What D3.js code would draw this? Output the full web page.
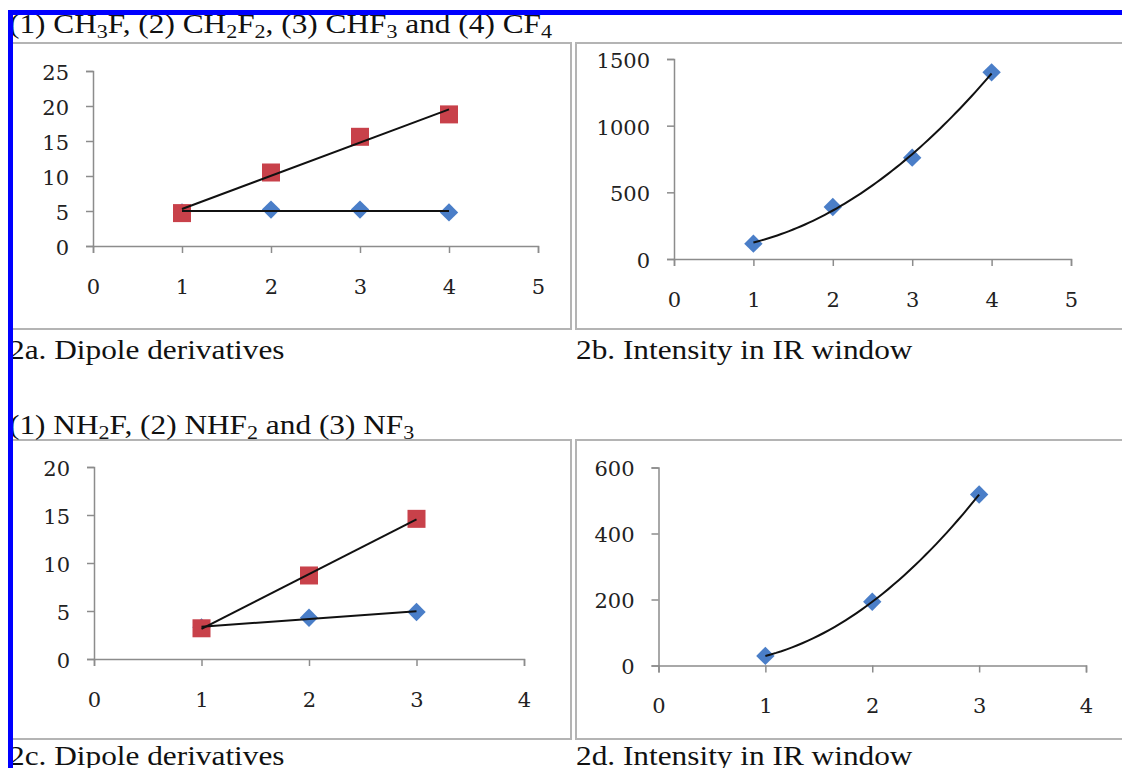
<!DOCTYPE html>
<html>
  <head>
    <meta charset="utf-8">
    <title>Dipole derivatives and IR intensity</title>
    <style media="screen">
      body { margin: 0; background: white; }
      .frame { fill: none; stroke: #b4b4b4; stroke-width: 2; }
      .axis path, .axis line { fill: none; stroke: #8c8c8c; stroke-width: 1.5; }
      .axis text { font-family: "DejaVu Serif", serif; font-size: 21px; fill: #222; }
      .caption { font-family: "Liberation Serif", serif; font-size: 27px; fill: #111; }
      .trend { fill: none; stroke: #111; stroke-width: 2; }
      .red { fill: #c8414a; }
      .blue { fill: #4a7ec8; }
    </style>
    <script src="https://d3js.org/d3.v7.min.js"></script>
  </head>
  <body>
    <script type="text/javascript">

      // fluoromethanes (1) CH3F ... (4) CF4
      const methaneX = [1, 2, 3, 4];
      const methaneRed = [4.7, 10.5, 15.6, 18.8];
      const methaneBlue = [4.8, 5.2, 5.2, 4.8];
      const methaneIntensity = [115, 390, 760, 1400];

      // fluoroamines (1) NH2F ... (3) NF3
      const amineX = [1, 2, 3];
      const amineRed = [3.2, 8.7, 14.6];
      const amineBlue = [3.3, 4.3, 4.9];
      const amineIntensity = [29, 193, 518];

      const aXTicks = [0, 1, 2, 3, 4, 5];
      const aYTicks = [0, 5, 10, 15, 20, 25];
      const bYTicks = [0, 500, 1000, 1500];
      const cXTicks = [0, 1, 2, 3, 4];
      const cYTicks = [0, 5, 10, 15, 20];
      const dYTicks = [0, 200, 400, 600];

      const width = 1122;
      const height = 768;
      const stretch = 1.16; // the scan is a little wider than tall

      const svg = d3.select('body')
        .append('svg')
          .attr('width', width)
          .attr('height', height);

      // least squares polynomial fit, like a spreadsheet trendline
      function polyfit(xs, ys, order) {
        const n = order + 1;
        const m = d3.range(n).map(i => d3.range(n + 1).map(j => {
          if (j === n) return d3.sum(xs, (x, k) => ys[k] * Math.pow(x, i));
          return d3.sum(xs, x => Math.pow(x, i + j));
        }));
        for (let i = 0; i < n; i++) {
          for (let r = i + 1; r < n; r++) {
            const f = m[r][i] / m[i][i];
            for (let c = i; c <= n; c++) m[r][c] -= f * m[i][c];
          }
        }
        const coef = new Array(n).fill(0);
        for (let i = n - 1; i >= 0; i--) {
          let s = m[i][n];
          for (let c = i + 1; c < n; c++) s -= m[i][c] * coef[c];
          coef[i] = s / m[i][i];
        }
        return x => d3.sum(coef, (a, i) => a * Math.pow(x, i));
      }

      function panel(opts) {
        const x = d3.scaleLinear().domain(opts.xDomain).range(opts.xRange);
        const y = d3.scaleLinear().domain(opts.yDomain).range(opts.yRange);
        const g = svg.append('g');

        const xAxis = g.append('g')
          .attr('class', 'axis')
          .attr('transform', `translate(0, ${y(0)})`)
          .call(d3.axisBottom(x).tickValues(opts.xTicks).tickSize(7).tickPadding(26).tickFormat(d3.format('d')));
        xAxis.selectAll('text').attr('dy', '0.71em');

        const yAxis = g.append('g')
          .attr('class', 'axis')
          .attr('transform', `translate(${x(0)}, 0)`)
          .call(d3.axisLeft(y).tickValues(opts.yTicks).tickSize(7).tickPadding(17).tickFormat(d3.format('d')));
        yAxis.selectAll('text').attr('dy', '0.4em');

        opts.series.forEach(s => {
          if (s.shape === 'diamond') {
            g.selectAll(null)
              .data(s.values)
              .enter()
              .append('rect')
                .attr('class', s.cls)
                .attr('x', -6.5).attr('y', -6.5)
                .attr('width', 13).attr('height', 13)
                .attr('transform', (d, i) => `translate(${x(opts.xs[i])}, ${y(d)}) rotate(45)`);
          } else {
            g.selectAll(null)
              .data(s.values)
              .enter()
              .append('rect')
                .attr('class', s.cls)
                .attr('x', (d, i) => x(opts.xs[i]) - 9)
                .attr('y', d => y(d) - 9)
                .attr('width', 18).attr('height', 18);
          }
        });

        opts.series.forEach(s => {
          const fit = polyfit(opts.xs, s.values, s.order);
          const x0 = opts.xs[0];
          const x1 = opts.xs[opts.xs.length - 1];
          const samples = s.order === 1 ? [x0, x1] : d3.range(x0, x1 + 0.001, 0.05);
          g.append('path')
            .attr('class', 'trend')
            .attr('d', d3.line().x(v => x(v)).y(v => y(fit(v)))(samples));
        });
      }

      // boxes round each chart
      svg.append('rect').attr('class', 'frame').attr('x', 12).attr('y', 43).attr('width', 559).attr('height', 286);
      svg.append('rect').attr('class', 'frame').attr('x', 576).attr('y', 43).attr('width', 560).attr('height', 286);
      svg.append('rect').attr('class', 'frame').attr('x', 12).attr('y', 440).attr('width', 559).attr('height', 299);
      svg.append('rect').attr('class', 'frame').attr('x', 576).attr('y', 440).attr('width', 560).attr('height', 299);

      panel({
        xs: methaneX, xDomain: [0, 5], xRange: [93, 538], xTicks: aXTicks,
        yDomain: [0, 25], yRange: [246, 71], yTicks: aYTicks,
        series: [
          { values: methaneBlue, cls: 'blue', shape: 'diamond', order: 1 },
          { values: methaneRed, cls: 'red', shape: 'square', order: 1 }
        ]
      });

      panel({
        xs: methaneX, xDomain: [0, 5], xRange: [674, 1071], xTicks: aXTicks,
        yDomain: [0, 1500], yRange: [259, 59], yTicks: bYTicks,
        series: [{ values: methaneIntensity, cls: 'blue', shape: 'diamond', order: 2 }]
      });

      panel({
        xs: amineX, xDomain: [0, 4], xRange: [94, 524], xTicks: cXTicks,
        yDomain: [0, 20], yRange: [659, 467], yTicks: cYTicks,
        series: [
          { values: amineBlue, cls: 'blue', shape: 'diamond', order: 1 },
          { values: amineRed, cls: 'red', shape: 'square', order: 1 }
        ]
      });

      panel({
        xs: amineX, xDomain: [0, 4], xRange: [658.5, 1086], xTicks: cXTicks,
        yDomain: [0, 600], yRange: [665.5, 467.5], yTicks: dYTicks,
        series: [{ values: amineIntensity, cls: 'blue', shape: 'diamond', order: 2 }]
      });

      function caption(xPos, yPos) {
        return svg.append('text')
          .attr('class', 'caption')
          .attr('transform', `translate(${xPos}, ${yPos}) scale(${stretch}, 1)`);
      }

      // text with chemical subscripts: [text, isSub]
      function chem(xPos, yPos, parts) {
        const t = caption(xPos, yPos);
        let down = false;
        parts.forEach(p => {
          const sub = p[1];
          const dy = sub && !down ? 5 : (!sub && down ? -5 : 0);
          down = sub;
          t.append('tspan')
            .attr('dy', dy)
            .attr('font-size', sub ? '19px' : null)
            .text(p[0]);
        });
      }

      chem(9, 33, [['(1) CH'], ['3', 1], ['F, (2) CH'], ['2', 1], ['F'], ['2', 1], [', (3) CHF'], ['3', 1], [' and (4) CF'], ['4', 1]]);
      chem(9, 434, [['(1) NH'], ['2', 1], ['F, (2) NHF'], ['2', 1], [' and (3) NF'], ['3', 1]]);

      caption(9, 359).text('2a. Dipole derivatives');
      caption(576, 359).text('2b. Intensity in IR window');
      caption(9, 765).text('2c. Dipole derivatives');
      caption(576, 765).text('2d. Intensity in IR window');

      // blue frame on top and left
      svg.append('rect').attr('x', 8).attr('y', 10).attr('width', width - 8).attr('height', 5).attr('fill', '#0000ff');
      svg.append('rect').attr('x', 8).attr('y', 10).attr('width', 5).attr('height', height - 10).attr('fill', '#0000ff');
    </script>
  </body>
</html>
